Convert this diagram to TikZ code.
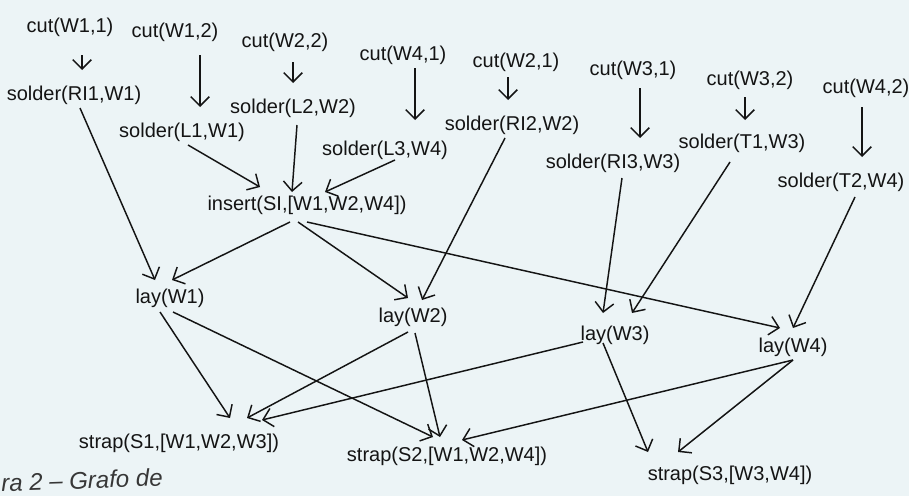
\documentclass[tikz,border=0pt]{standalone}
\usepackage{fontspec}
\setmainfont{Liberation Sans}
\usetikzlibrary{arrows.meta}
\definecolor{paper}{RGB}{236,244,246}
\definecolor{ink}{RGB}{20,20,20}
\begin{document}
\begin{tikzpicture}[x=0.75pt,y=-0.75pt,
  lbl/.style={inner sep=0pt, text=ink, font=\fontsize{15}{18}\selectfont},
  arr/.style={draw=ink, line width=1.1pt, -{Straight Barb[length=7pt,width=14pt,line width=1.1pt]}}]
\fill[paper] (0,0) rectangle (909,496);
\useasboundingbox (0,0) rectangle (909,496);
% cut nodes
\node[lbl] (c11) at (70,27) {cut(W1,1)};
\node[lbl] (c12) at (175,32) {cut(W1,2)};
\node[lbl] (c22) at (285,42) {cut(W2,2)};
\node[lbl] (c41) at (403,55) {cut(W4,1)};
\node[lbl] (c21) at (516,62) {cut(W2,1)};
\node[lbl] (c31) at (633,70) {cut(W3,1)};
\node[lbl] (c32) at (750,80) {cut(W3,2)};
\node[lbl] (c42) at (866,88) {cut(W4,2)};
% solder nodes
\node[lbl] (sRI1) at (74,95) {solder(RI1,W1)};
\node[lbl] (sL2) at (293,108) {solder(L2,W2)};
\node[lbl] (sL1) at (182,132) {solder(L1,W1)};
\node[lbl] (sRI2) at (512,125) {solder(RI2,W2)};
\node[lbl] (sL3) at (385,150) {solder(L3,W4)};
\node[lbl] (sT1) at (742,143) {solder(T1,W3)};
\node[lbl] (sRI3) at (613,163) {solder(RI3,W3)};
\node[lbl] (sT2) at (841,182) {solder(T2,W4)};
% insert and lay
\node[lbl] (ins) at (307,205) {insert(SI,[W1,W2,W4])};
\node[lbl] (lay1) at (170,298) {lay(W1)};
\node[lbl] (lay2) at (413,317) {lay(W2)};
\node[lbl] (lay3) at (615,335) {lay(W3)};
\node[lbl] (lay4) at (793,347) {lay(W4)};
% strap
\node[lbl] (st1) at (179,443) {strap(S1,[W1,W2,W3])};
\node[lbl] (st2) at (447,456) {strap(S2,[W1,W2,W4])};
\node[lbl] (st3) at (730,475) {strap(S3,[W3,W4])};
% caption fragment
\node[inner sep=0pt, anchor=west, rotate=2, text=ink!85, font=\fontsize{18}{21}\selectfont\itshape] (cap) at (1,483) {ra 2 – Grafo de};
% edges
\draw[arr] ([shift={(12,28)}]c11.center) -- ([shift={(8,-25)}]sRI1.center);
\draw[arr] ([shift={(25,23)}]c12.center) -- ([shift={(18,-25)}]sL1.center);
\draw[arr] ([shift={(8,20)}]c22.center) -- ([shift={(0,-25)}]sL2.center);
\draw[arr] ([shift={(12,13)}]c41.center) -- ([shift={(30,-30)}]sL3.center);
\draw[arr] ([shift={(-8,15)}]c21.center) -- ([shift={(-4,-25)}]sRI2.center);
\draw[arr] ([shift={(7,18)}]c31.center) -- ([shift={(27,-25)}]sRI3.center);
\draw[arr] ([shift={(-5,17)}]c32.center) -- ([shift={(3,-23)}]sT1.center);
\draw[arr] ([shift={(-4,19)}]c42.center) -- ([shift={(21,-25)}]sT2.center);
\draw[arr] ([shift={(6,13)}]sRI1.center) -- ([shift={(-15,-18)}]lay1.center);
\draw[arr] ([shift={(6,13)}]sL1.center) -- ([shift={(-47,-18)}]ins.center);
\draw[arr] ([shift={(4,17)}]sL2.center) -- ([shift={(-15,-13)}]ins.center);
\draw[arr] ([shift={(10,10)}]sL3.center) -- ([shift={(18,-13)}]ins.center);
\draw[arr] ([shift={(-7,13)}]sRI2.center) -- ([shift={(9,-17)}]lay2.center);
\draw[arr] ([shift={(-17,17)}]ins.center) -- ([shift={(2,-18)}]lay1.center);
\draw[arr] ([shift={(-9,17)}]ins.center) -- ([shift={(-5,-19)}]lay2.center);
\draw[arr] ([shift={(0,17)}]ins.center) -- ([shift={(-13,-19)}]lay4.center);
\draw[arr] ([shift={(9,15)}]sRI3.center) -- ([shift={(-12,-22)}]lay3.center);
\draw[arr] ([shift={(-12,19)}]sT1.center) -- ([shift={(17,-22)}]lay3.center);
\draw[arr] ([shift={(14,15)}]sT2.center) -- ([shift={(0,-19)}]lay4.center);
\draw[arr] ([shift={(-10,14)}]lay1.center) -- ([shift={(51,-25)}]st1.center);
\draw[arr] ([shift={(3,14)}]lay1.center) -- ([shift={(-14,-19)}]st2.center);
\draw[arr] ([shift={(-5,15)}]lay2.center) -- ([shift={(68,-25)}]st1.center);
\draw[arr] ([shift={(2,16)}]lay2.center) -- ([shift={(-7,-19)}]st2.center);
\draw[arr] ([shift={(-32,7)}]lay3.center) -- ([shift={(83,-23)}]st1.center);
\draw[arr] ([shift={(-12,8)}]lay3.center) -- ([shift={(-82,-23)}]st3.center);
\draw[arr] ([shift={(0,13)}]lay4.center) -- ([shift={(15,-16)}]st2.center);
\draw[arr] ([shift={(0,13)}]lay4.center) -- ([shift={(-52,-23)}]st3.center);
\end{tikzpicture}
\end{document}
